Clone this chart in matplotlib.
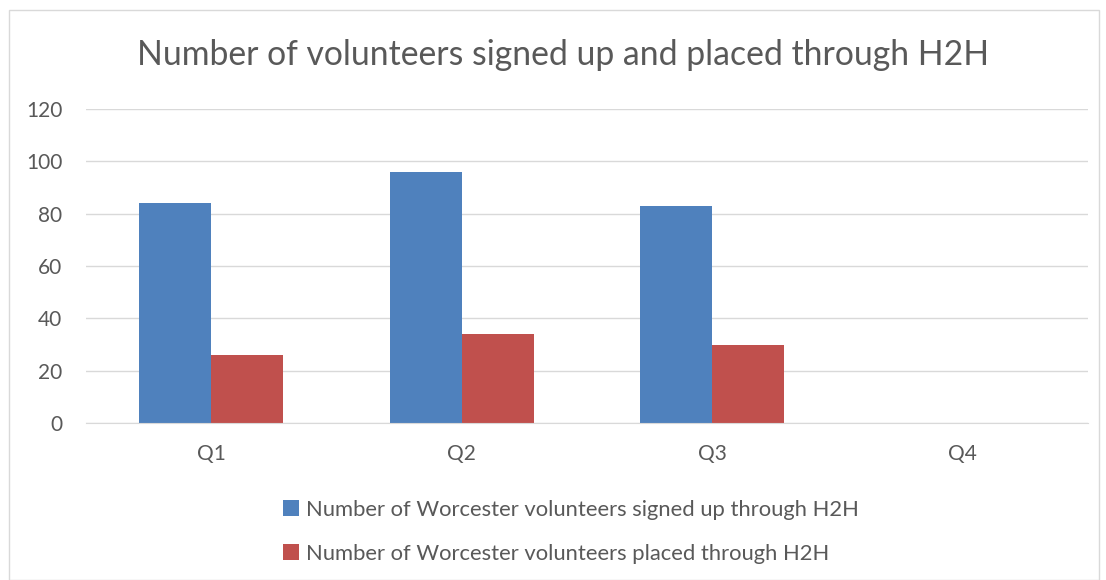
import numpy as np
from matplotlib import pyplot as plt
from matplotlib.patches import Rectangle

quarters = ['Q1', 'Q2', 'Q3', 'Q4']
signed_up = [84, 96, 83, 0]
placed = [26, 34, 30, 0]
labels = ['Number of Worcester volunteers signed up through H2H',
          'Number of Worcester volunteers placed through H2H']

plt.rcParams['font.family'] = ['Lato', 'DejaVu Sans']
txt = '#595959'

fig = plt.figure(figsize=(11.06, 5.8), dpi=100)
# outer chart border
fig.patches.append(Rectangle((9 / 1106, 0), 1090 / 1106, 1 - 10 / 580, transform=fig.transFigure,
                             fill=False, edgecolor='#d9d9d9', linewidth=1))
ax = fig.add_axes([86 / 1106, 1 - 423 / 580, 1002 / 1106, 314 / 580])

x = np.arange(len(quarters))
w = 0.288
ax.bar(x - w / 2, signed_up, w, color='#4f81bd', label=labels[0])
ax.bar(x + w / 2, placed, w, color='#c0504d', label=labels[1])

ax.set_xlim(-0.5, 3.5)
ax.set_ylim(0, 120)
ax.set_yticks(range(0, 121, 20))
ax.set_xticks(x)
ax.set_xticklabels(quarters)
ax.grid(axis='y', color='#d9d9d9', linewidth=1)
ax.set_axisbelow(True)
for s in ['top', 'right', 'left']:
    ax.spines[s].set_visible(False)
ax.spines['bottom'].set_color('#d9d9d9')
ax.tick_params(length=0, labelsize=15, labelcolor=txt)
ax.tick_params(axis='y', pad=17)
ax.tick_params(axis='x', pad=15)

fig.text(0.509, 1 - 55 / 580, 'Number of volunteers signed up and placed through H2H',
         ha='center', va='center', fontsize=24.3, color=txt)

fig.legend(loc='upper left', bbox_to_anchor=(263 / 1106, 1 - 480 / 580), frameon=False,
           fontsize=15.8, labelcolor=txt, handlelength=0.75, handleheight=0.75,
           handletextpad=0.3, labelspacing=1.1)

plt.savefig('out.png', dpi=100)
